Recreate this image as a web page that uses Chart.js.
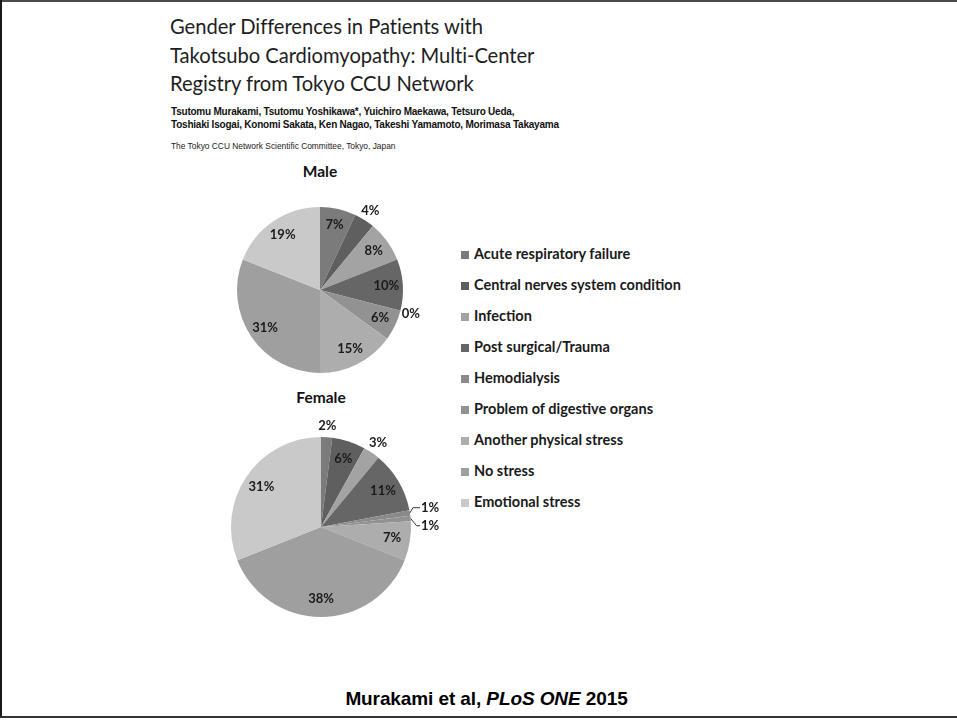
<!DOCTYPE html>
<html>
<head>
<meta charset="utf-8">
<script src="https://cdn.jsdelivr.net/npm/chart.js@4.4.1/dist/chart.umd.min.js"></script>
<style>
  html, body { margin: 0; padding: 0; background: #fff; }
  #page {
    position: relative; width: 957px; height: 720px; overflow: hidden; background: #fff;
    box-sizing: border-box;
  }
  #frameLeft { position: absolute; left: 0; top: 0; width: 2px; height: 718px; background: #1a1a1a; }
  #frameTop { position: absolute; left: 0; top: 0; width: 957px; height: 2px; background: #4a4a4a; }
  #frameBottom { position: absolute; left: 0; top: 716px; width: 957px; height: 2px; background: #333; }
  .title {
    position: absolute; left: 170px; font-family: "Lato", sans-serif; font-weight: 400;
    font-size: 20.2px; color: #1e1e1e; white-space: nowrap; letter-spacing: -0.05px;
  }
  .authors {
    position: absolute; left: 171px; font-family: "Liberation Sans", Arial, sans-serif; font-weight: 700;
    font-size: 10px; color: #111; white-space: nowrap; letter-spacing: -0.22px;
  }
  .affil {
    position: absolute; left: 171px; top: 141px; font-family: "Liberation Sans", Arial, sans-serif;
    font-size: 8.4px; color: #222; white-space: nowrap; letter-spacing: 0px;
  }
  .pieTitle {
    position: absolute; width: 120px; text-align: center; font-family: "Lato", sans-serif; font-weight: 700;
    font-size: 15.5px; color: #111;
  }
  canvas { position: absolute; }
  #legend { position: absolute; left: 459px; top: 0; width: 240px; height: 720px; }
  .lg {
    position: absolute; left: 0; height: 20px; line-height: 20px; white-space: nowrap;
    font-family: "Lato", sans-serif; font-weight: 700; font-size: 14.5px; color: #1a1a1a; letter-spacing: 0px;
  }
  .lg i { display: inline-block; width: 8px; height: 8px; margin: 0 5px 0 2px; vertical-align: 0px; }
  #footer {
    position: absolute; left: 8px; width: 957px; top: 688px; text-align: center;
    font-family: "Liberation Sans", Arial, sans-serif; font-weight: 700;
    font-size: 19px; color: #000; letter-spacing: -0.1px;
  }
</style>
</head>
<body>
<div id="page">
  <div id="frameTop"></div>
  <div id="frameLeft"></div>
  <div id="frameBottom"></div>

  <div class="title" style="top:14px">Gender Differences in Patients with</div>
  <div class="title" style="top:43px">Takotsubo Cardiomyopathy: Multi-Center</div>
  <div class="title" style="top:71px">Registry from Tokyo CCU Network</div>
  <div class="authors" style="top:106px">Tsutomu Murakami, Tsutomu Yoshikawa*, Yuichiro Maekawa, Tetsuro Ueda,</div>
  <div class="authors" style="top:119px">Toshiaki Isogai, Konomi Sakata, Ken Nagao, Takeshi Yamamoto, Morimasa Takayama</div>
  <div class="affil">The Tokyo CCU Network Scientific Committee, Tokyo, Japan</div>

  <div class="pieTitle" style="left:260px; top:162px">Male</div>
  <div class="pieTitle" style="left:261px; top:388px">Female</div>

  <canvas id="malePie" width="250" height="250" style="left:195px; top:165px"></canvas>
  <canvas id="femalePie" width="260" height="260" style="left:191px; top:397px"></canvas>

  <div id="legend"></div>

  <div id="footer">Murakami et al, <i>PLoS ONE</i> 2015</div>
</div>

<script>
// Stress triggers, in legend / slice order (clockwise from 12 o'clock)
const categories = [
  "Acute respiratory failure",
  "Central nerves system condition",
  "Infection",
  "Post surgical/Trauma",
  "Hemodialysis",
  "Problem of digestive organs",
  "Another physical stress",
  "No stress",
  "Emotional stress"
];

// Percent of patients per trigger
const maleValues   = [7, 4, 8, 10, 0, 6, 15, 31, 19];
const femaleValues = [2, 6, 3, 11, 1, 1, 7, 38, 31];

// Grey shades for each trigger
const sliceColors = [
  "#7b7b7b", "#5f5f5f", "#a3a3a3", "#666666", "#8a8a8a",
  "#929292", "#adadad", "#9f9f9f", "#c9c9c9"
];

// Legend rows
const legend = document.getElementById("legend");
categories.forEach((name, i) => {
  const row = document.createElement("div");
  row.className = "lg";
  row.style.top = (244 + i * 31) + "px";
  const sw = document.createElement("i");
  sw.style.background = sliceColors[i];
  row.appendChild(sw);
  row.appendChild(document.createTextNode(name));
  legend.appendChild(row);
});

// Percent labels: inside for big slices, outside for small ones,
// with leader lines for the tiny adjacent ones.
const percentLabels = {
  id: "percentLabels",
  afterDatasetsDraw(chart) {
    const ctx = chart.ctx;
    const meta = chart.getDatasetMeta(0);
    const values = chart.data.datasets[0].data;
    ctx.save();
    ctx.font = "bold 13px Lato, sans-serif";
    ctx.fillStyle = "#1a1a1a";
    ctx.textAlign = "center";
    ctx.textBaseline = "middle";

    // group the 1% slices that sit next to each other
    const tiny = [];
    meta.data.forEach((arc, i) => {
      const p = arc.getProps(["x", "y", "startAngle", "endAngle", "outerRadius"], true);
      const mid = (p.startAngle + p.endAngle) / 2;
      const v = values[i];
      const r = p.outerRadius;
      if (v === 1) { tiny.push({p, mid, v}); return; }
      const k = v >= 5 ? 0.8 : 1.13;
      const lx = p.x + Math.cos(mid) * r * k;
      const ly = p.y + Math.sin(mid) * r * k;
      ctx.fillText(v + "%", lx, ly);
    });

    if (tiny.length) {
      const baseYs = tiny.map(t => t.p.y + Math.sin(t.mid) * t.p.outerRadius);
      const meanY = baseYs.reduce((a, b) => a + b, 0) / baseYs.length;
      ctx.strokeStyle = "#333";
      ctx.lineWidth = 1;
      tiny.forEach((t, k) => {
        const r = t.p.outerRadius;
        const ex = t.p.x + Math.cos(t.mid) * r;
        const ey = t.p.y + Math.sin(t.mid) * r;
        const ly = meanY + (k - (tiny.length - 1) / 2) * 18 + 1;
        const lx = t.p.x + r + 19;
        ctx.beginPath();
        ctx.moveTo(ex, ey);
        ctx.lineTo(ex + 3 + 3 * k, ly);
        ctx.lineTo(lx - 10, ly);
        ctx.stroke();
        ctx.fillText(t.v + "%", lx, ly);
      });
    }
    ctx.restore();
  }
};

function makePie(id, values, pad) {
  return new Chart(document.getElementById(id), {
    type: "pie",
    data: {
      labels: categories,
      datasets: [{
        data: values,
        backgroundColor: sliceColors,
        borderWidth: 0,
        hoverOffset: 0
      }]
    },
    options: {
      responsive: false,
      animation: false,
      devicePixelRatio: 1,
      layout: { padding: pad },
      events: [],
      plugins: { legend: { display: false }, tooltip: { enabled: false } }
    },
    plugins: [percentLabels]
  });
}

makePie("malePie", maleValues, 42);
makePie("femalePie", femaleValues, 40);
</script>
</body>
</html>
